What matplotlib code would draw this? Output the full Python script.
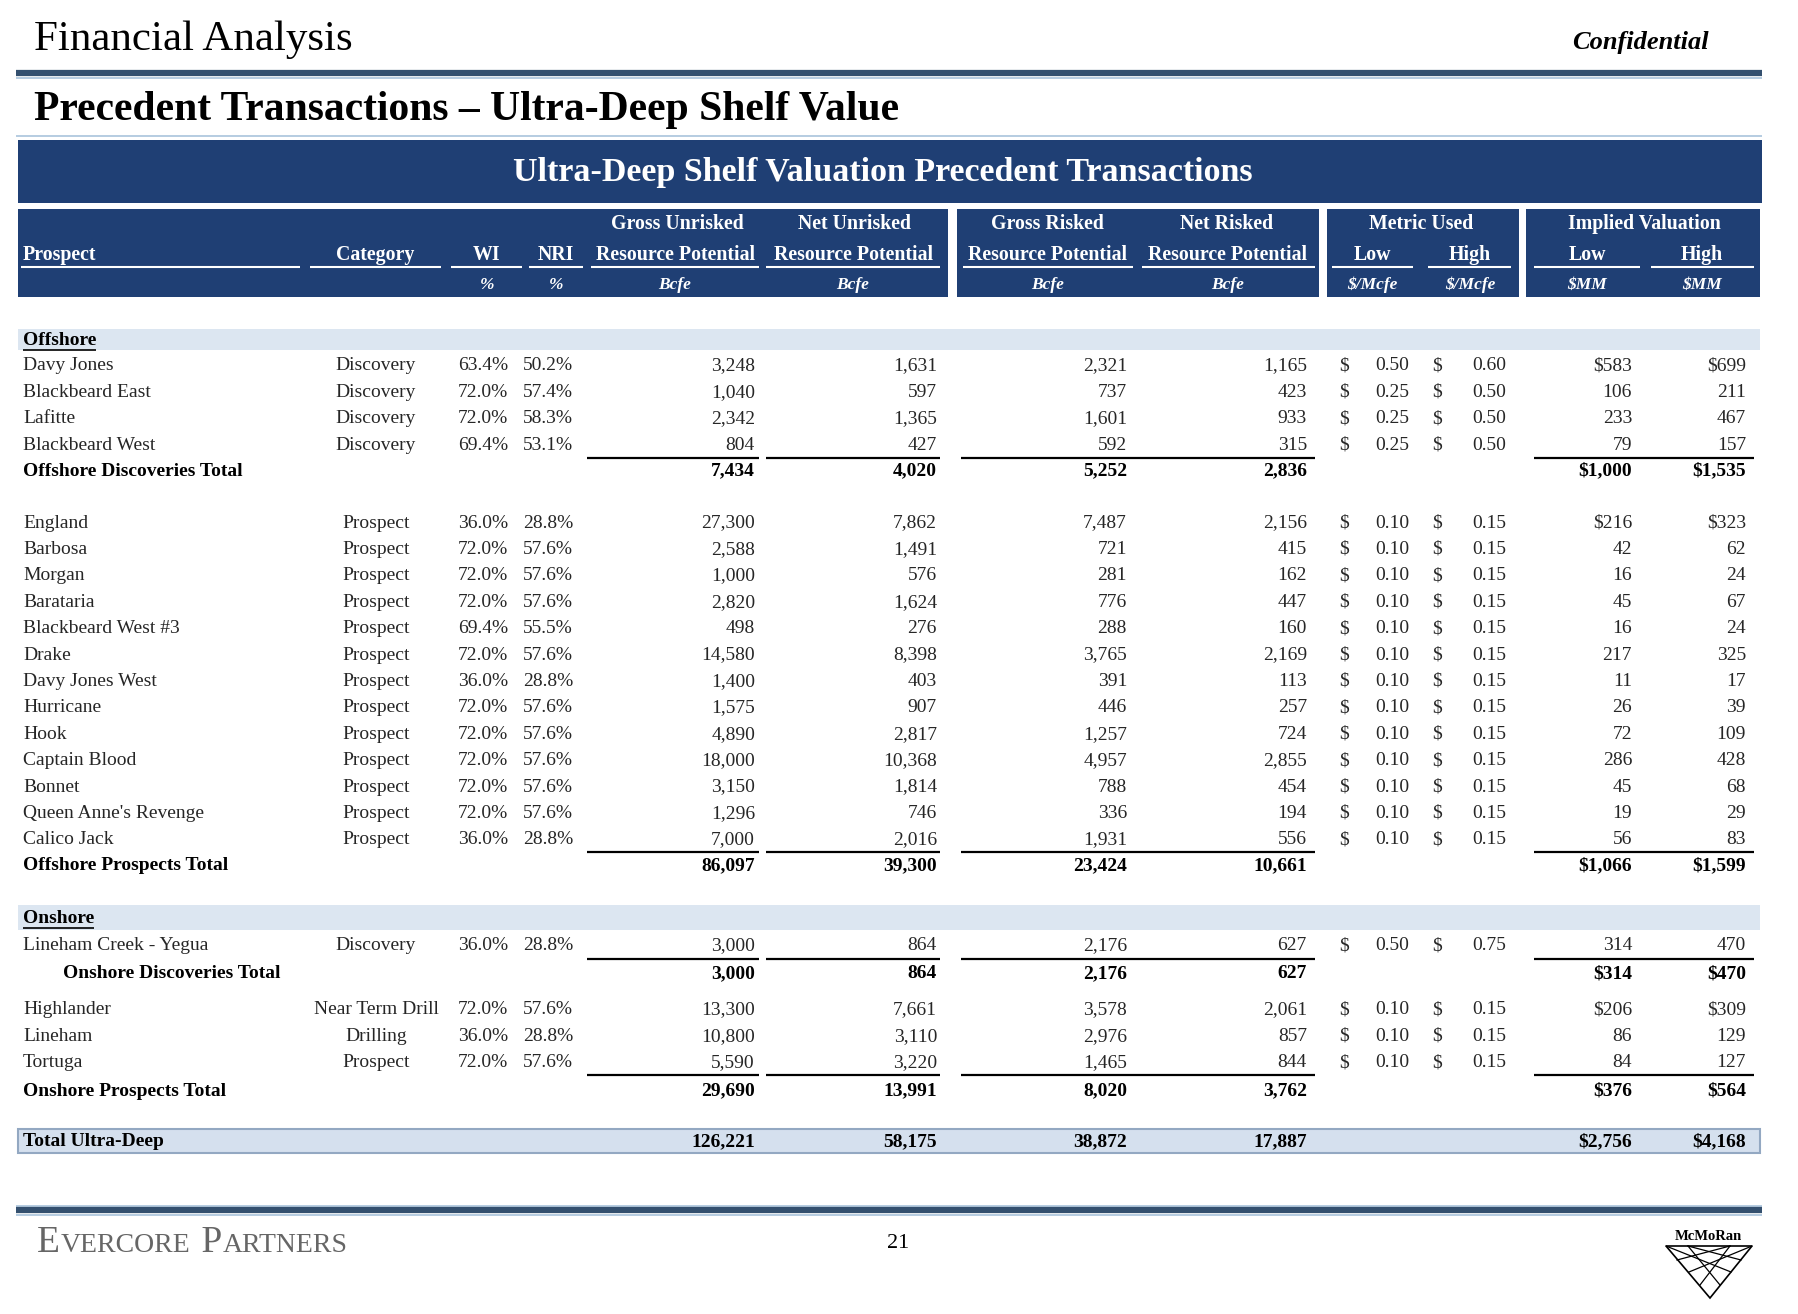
import matplotlib
matplotlib.use("Agg")
import matplotlib.pyplot as plt
from matplotlib.patches import Rectangle, Polygon

SERIF = ["Liberation Serif", "DejaVu Serif"]
NAVY = "#1F3F74"
RULE = "#34506F"
PALE = "#A9C3DC"
BAND = "#DCE6F1"

# ---- data ----
prospects = [
    "Davy Jones", "Blackbeard East", "Lafitte", "Blackbeard West",
    "England", "Barbosa", "Morgan", "Barataria", "Blackbeard West #3", "Drake",
    "Davy Jones West", "Hurricane", "Hook", "Captain Blood", "Bonnet",
    "Queen Anne's Revenge", "Calico Jack",
    "Lineham Creek - Yegua",
    "Highlander", "Lineham", "Tortuga",
]
groups = [0] * 4 + [1] * 13 + [2] * 1 + [3] * 3
categories = ["Discovery"] * 4 + ["Prospect"] * 13 + ["Discovery"] + ["Near Term Drill", "Drilling", "Prospect"]
wi = [63.4, 72.0, 72.0, 69.4,
      36.0, 72.0, 72.0, 72.0, 69.4, 72.0, 36.0, 72.0, 72.0, 72.0, 72.0, 72.0, 36.0,
      36.0,
      72.0, 36.0, 72.0]
nri = [50.2, 57.4, 58.3, 53.1,
       28.8, 57.6, 57.6, 57.6, 55.5, 57.6, 28.8, 57.6, 57.6, 57.6, 57.6, 57.6, 28.8,
       28.8,
       57.6, 28.8, 57.6]
gross_unrisked = [3248, 1040, 2342, 804,
                  27300, 2588, 1000, 2820, 498, 14580, 1400, 1575, 4890, 18000, 3150, 1296, 7000,
                  3000,
                  13300, 10800, 5590]
net_unrisked = [1631, 597, 1365, 427,
                7862, 1491, 576, 1624, 276, 8398, 403, 907, 2817, 10368, 1814, 746, 2016,
                864,
                7661, 3110, 3220]
gross_risked = [2321, 737, 1601, 592,
                7487, 721, 281, 776, 288, 3765, 391, 446, 1257, 4957, 788, 336, 1931,
                2176,
                3578, 2976, 1465]
net_risked = [1165, 423, 933, 315,
              2156, 415, 162, 447, 160, 2169, 113, 257, 724, 2855, 454, 194, 556,
              627,
              2061, 857, 844]
metric_low = [0.50, 0.25, 0.25, 0.25] + [0.10] * 13 + [0.50] + [0.10] * 3
metric_high = [0.60, 0.50, 0.50, 0.50] + [0.15] * 13 + [0.75] + [0.15] * 3
value_low = [583, 106, 233, 79,
             216, 42, 16, 45, 16, 217, 11, 26, 72, 286, 45, 19, 56,
             314,
             206, 86, 84]
value_high = [699, 211, 467, 157,
              323, 62, 24, 67, 24, 325, 17, 39, 109, 428, 68, 29, 83,
              470,
              309, 129, 127]
dollar_rows = ["Davy Jones", "England", "Highlander"]

total_labels = ["Offshore Discoveries Total", "Offshore Prospects Total",
                "Onshore Discoveries Total", "Onshore Prospects Total"]
total_gross_unrisked = [7434, 86097, 3000, 29690]
total_net_unrisked = [4020, 39300, 864, 13991]
total_gross_risked = [5252, 23424, 2176, 8020]
total_net_risked = [2836, 10661, 627, 3762]
total_value_low = [1000, 1066, 314, 376]
total_value_high = [1535, 1599, 470, 564]
grand_total = {"gu": 126221, "nu": 58175, "gr": 38872, "nr": 17887, "vl": 2756, "vh": 4168}

# ---- layout (pixel space of the slide) ----
W, H = 1798, 1314
fig = plt.figure(figsize=(W / 100, H / 100), dpi=100)
ax = fig.add_axes([0, 0, 1, 1])
ax.set_xlim(0, W)
ax.set_ylim(H, 0)
ax.axis("off")

FS = 14      # body text
HS = 14.3    # header text
TEXT = "#262626"


def put(x, y, s, ha="left", size=FS, weight="normal", color="black", style="normal", va="center"):
    return ax.text(x, y, s, ha=ha, va=va, fontsize=size, fontweight=weight, color=color,
                   fontstyle=style, family=SERIF, parse_math=False)


def hline(x0, x1, y, color="black", lw=1.6):
    ax.plot([x0, x1], [y, y], color=color, lw=lw, solid_capstyle="butt")


# page header
put(34, 40, "Financial Analysis", size=31)
put(1640, 42, "Confidential", ha="center", size=19, weight="bold", style="italic")
hline(16, 1762, 73, color=RULE, lw=4.5)
hline(16, 1762, 77.5, color=PALE, lw=1.2)
put(34, 110, "Precedent Transactions \u2013 Ultra-Deep Shelf Value", size=30, weight="bold")
hline(16, 1762, 136, color=PALE, lw=1.2)

# banner
ax.add_patch(Rectangle((18, 140), 1744, 63, color=NAVY, lw=0))
put(883, 172, "Ultra-Deep Shelf Valuation Precedent Transactions", ha="center",
    size=24.5, weight="bold", color="white")

# header boxes
for x0, x1 in [(18, 948), (957, 1319), (1327, 1519), (1526, 1760)]:
    ax.add_patch(Rectangle((x0, 209), x1 - x0, 88, color=NAVY, lw=0))

for x, s in [(677, "Gross Unrisked"), (855, "Net Unrisked"), (1047, "Gross Risked"),
             (1227, "Net Risked"), (1421, "Metric Used"), (1644, "Implied Valuation")]:
    put(x, 224, s, ha="center", size=HS, weight="bold", color="white")
put(23, 255, "Prospect", size=HS, weight="bold", color="white")
for x, s in [(375, "Category"), (487, "WI"), (556, "NRI"), (675, "Resource Potential"),
             (853, "Resource Potential"), (1048, "Resource Potential"), (1228, "Resource Potential"),
             (1372, "Low"), (1470, "High"), (1587, "Low"), (1702, "High")]:
    put(x, 255, s, ha="center", size=HS, weight="bold", color="white")
for x0, x1 in [(21, 300), (310, 441), (451, 522), (529, 583), (591, 759), (766, 940),
               (963, 1133), (1142, 1315), (1332, 1413), (1428, 1511), (1534, 1640), (1651, 1754)]:
    hline(x0, x1, 267, color="white", lw=1.5)
for x, s in [(487, "%"), (556, "%"), (675, "Bcfe"), (853, "Bcfe"), (1048, "Bcfe"),
             (1228, "Bcfe"), (1372, "$/Mcfe"), (1470, "$/Mcfe"), (1587, "$MM"), (1702, "$MM")]:
    put(x, 285, s, ha="center", size=12.5, weight="bold", style="italic", color="white")

# column anchors
X_NAME, X_CAT, X_WI, X_NRI = 23, 376, 508, 573
X_GU, X_NU, X_GR, X_NR = 755, 937, 1127, 1307
X_D1, X_ML, X_D2, X_MH = 1344, 1409, 1437, 1506
X_VL, X_VH = 1632, 1746

STEP = 26.4
group_start = [366, 523, 946, 1010]
total_y = [471, 866, 974, 1091]


def section_band(y0, y1, label):
    ax.add_patch(Rectangle((18, y0), 1742, y1 - y0, color=BAND, lw=0))
    t = put(X_NAME, (y0 + y1) / 2 + 1, label, weight="bold")
    fig.canvas.draw()
    bb = t.get_window_extent().transformed(ax.transData.inverted())
    hline(bb.x0, bb.x1, (y0 + y1) / 2 + 10, lw=1.2)


section_band(329, 350, "Offshore")
section_band(905, 930, "Onshore")

row_y = []
for g in range(4):
    idx = [i for i, gg in enumerate(groups) if gg == g]
    for k, i in enumerate(idx):
        row_y.append(group_start[g] + k * STEP)

for i, name in enumerate(prospects):
    y = row_y[i]
    put(X_NAME, y, name, color=TEXT)
    put(X_CAT, y, categories[i], ha="center", color=TEXT)
    put(X_WI, y, f"{wi[i]:.1f}%", ha="right", color=TEXT)
    put(X_NRI, y, f"{nri[i]:.1f}%", ha="right", color=TEXT)
    put(X_GU, y, f"{gross_unrisked[i]:,}", ha="right", color=TEXT)
    put(X_NU, y, f"{net_unrisked[i]:,}", ha="right", color=TEXT)
    put(X_GR, y, f"{gross_risked[i]:,}", ha="right", color=TEXT)
    put(X_NR, y, f"{net_risked[i]:,}", ha="right", color=TEXT)
    put(X_D1, y, "$", ha="center", color=TEXT)
    put(X_ML, y, f"{metric_low[i]:.2f}", ha="right", color=TEXT)
    put(X_D2, y, "$", ha="center", color=TEXT)
    put(X_MH, y, f"{metric_high[i]:.2f}", ha="right", color=TEXT)
    pre = "$" if name in dollar_rows else ""
    put(X_VL, y, f"{pre}{value_low[i]:,}", ha="right", color=TEXT)
    put(X_VH, y, f"{pre}{value_high[i]:,}", ha="right", color=TEXT)

for g in range(4):
    last = max(i for i, gg in enumerate(groups) if gg == g)
    yl = row_y[last] + 12.5
    for x0, x1 in [(587, 759), (766, 940), (961, 1315), (1534, 1754)]:
        hline(x0, x1, yl)
    y = total_y[g]
    xlab = 63 if g == 2 else X_NAME
    put(xlab, y, total_labels[g], weight="bold")
    put(X_GU, y, f"{total_gross_unrisked[g]:,}", ha="right", weight="bold")
    put(X_NU, y, f"{total_net_unrisked[g]:,}", ha="right", weight="bold")
    put(X_GR, y, f"{total_gross_risked[g]:,}", ha="right", weight="bold")
    put(X_NR, y, f"{total_net_risked[g]:,}", ha="right", weight="bold")
    put(X_VL, y, f"${total_value_low[g]:,}", ha="right", weight="bold")
    put(X_VH, y, f"${total_value_high[g]:,}", ha="right", weight="bold")

# grand total band
ax.add_patch(Rectangle((18, 1129), 1742, 24, facecolor="#D5E0EE", edgecolor="#93A8C2", lw=1.5))
gy = 1142
put(X_NAME, gy, "Total Ultra-Deep", weight="bold")
put(X_GU, gy, f"{grand_total['gu']:,}", ha="right", weight="bold")
put(X_NU, gy, f"{grand_total['nu']:,}", ha="right", weight="bold")
put(X_GR, gy, f"{grand_total['gr']:,}", ha="right", weight="bold")
put(X_NR, gy, f"{grand_total['nr']:,}", ha="right", weight="bold")
put(X_VL, gy, f"${grand_total['vl']:,}", ha="right", weight="bold")
put(X_VH, gy, f"${grand_total['vh']:,}", ha="right", weight="bold")

# footer
hline(16, 1762, 1206, color=PALE, lw=1.2)
hline(16, 1762, 1210, color=RULE, lw=4.5)
hline(16, 1762, 1214.5, color=PALE, lw=1.2)

x = 37
for s, sz in [("E", 27), ("VERCORE", 20), (" P", 27), ("ARTNERS", 20)]:
    t = put(x, 1252, s, size=sz, color="#666666", va="baseline")
    fig.canvas.draw()
    x = t.get_window_extent().transformed(ax.transData.inverted()).x1 + 1

put(898, 1243, "21", ha="center", size=16)

# McMoRan mark
put(1708, 1236, "McMoRan", ha="center", size=10.5, weight="bold")
ax.add_patch(Polygon([(1666, 1246), (1752, 1246), (1710, 1298)], closed=True,
                     fill=False, edgecolor="black", lw=1.2))
for a, b in [((1666, 1246), (1731, 1272)), ((1752, 1246), (1689, 1272)),
             ((1688, 1246), (1741, 1260)), ((1730, 1246), (1677, 1260)),
             ((1688, 1246), (1720, 1285)), ((1730, 1246), (1700, 1285))]:
    ax.plot([a[0], b[0]], [a[1], b[1]], color="black", lw=0.9)

fig.savefig("out.png", dpi=100)
